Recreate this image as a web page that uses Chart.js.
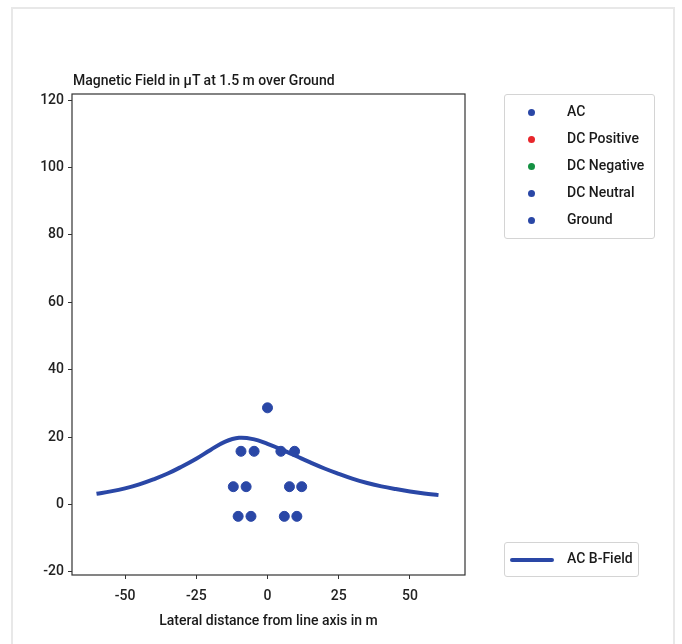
<!DOCTYPE html>
<html>
<head>
<meta charset="utf-8">
<script src="https://cdn.jsdelivr.net/npm/chart.js@4.4.1/dist/chart.umd.min.js"></script>
<style>
  body { margin: 0; background: #fff; font-family: Roboto, "DejaVu Sans", sans-serif; }
  #wrap { position: relative; width: 682px; height: 644px; overflow: hidden; }
  #frame { position: absolute; left: 11px; top: 7px; width: 660px; height: 660px; border: 2px solid #e8e8e8; }
  #title { position: absolute; left: 73px; top: 72px; font-size: 14px; font-weight: 500; line-height: 17px; color: #1a1a1a; white-space: nowrap; }
  .legend { position: absolute; border: 1px solid #d4d4d4; border-radius: 3px; background: #fff; font-size: 14px; font-weight: 500; line-height: 17px; color: #1a1a1a; }
  .row { position: absolute; white-space: nowrap; }
  .dot { position: absolute; width: 7px; height: 7px; border-radius: 50%; }
  .bar { position: absolute; height: 4px; border-radius: 2px; }
</style>
</head>
<body>
<div id="wrap">
  <canvas id="chart"></canvas>
  <div id="frame"></div>
  <div id="title">Magnetic Field in μT at 1.5 m over Ground</div>
  <div id="legend1" class="legend" style="left:504px;top:94px;width:149px;height:143px;"></div>
  <div id="legend2" class="legend" style="left:504px;top:542px;width:133px;height:33px;"></div>
</div>
<script>
// lateral distance (m) and AC field (µT) along the profile
var curveX = [-60,-55,-50,-45,-40,-35,-30,-25,-20,-15,-10,-5,0,5,10,15,20,25,30,35,40,45,50,55,60];
var curveB = [3.2,3.9,4.8,6.0,7.5,9.2,11.3,13.6,16.2,18.6,19.8,19.4,18.0,16.3,14.4,12.5,10.7,9.1,7.6,6.4,5.4,4.6,3.9,3.3,2.8];

// conductor positions (x in m, height in m)
var acX = [-9.3,-4.7,4.7,9.5,-12.0,-7.5,7.7,12.0,-10.3,-5.8,5.9,10.3];
var acY = [15.8,15.8,15.8,15.8,5.3,5.3,5.3,5.3,-3.5,-3.5,-3.5,-3.5];
var dcPosX = [], dcPosY = [];
var dcNegX = [], dcNegY = [];
var dcNeuX = [], dcNeuY = [];
var groundX = [0];
var groundY = [28.7];

var xTicks = [-50, -25, 0, 25, 50];
var yTicks = [-20, 0, 20, 40, 60, 80, 100, 120];

var blue = '#2a47a6';

function pts(xs, ys) {
  return xs.map(function (x, i) { return { x: x, y: ys[i] }; });
}

var pointSets = [
  { label: 'AC', data: pts(acX, acY), color: blue },
  { label: 'DC Positive', data: pts(dcPosX, dcPosY), color: '#e8262b' },
  { label: 'DC Negative', data: pts(dcNegX, dcNegY), color: '#149142' },
  { label: 'DC Neutral', data: pts(dcNeuX, dcNeuY), color: blue },
  { label: 'Ground', data: pts(groundX, groundY), color: blue }
];

var datasets = [{
  label: 'AC B-Field',
  data: pts(curveX, curveB),
  showLine: true,
  borderColor: blue,
  borderWidth: 4,
  pointRadius: 0,
  tension: 0.4,
  order: 2
}];
pointSets.forEach(function (s) {
  datasets.push({
    label: s.label,
    data: s.data,
    backgroundColor: s.color,
    borderColor: s.color,
    pointRadius: 5,
    pointHoverRadius: 5,
    showLine: false,
    order: 1
  });
});

var frameBox = {
  id: 'frameBox',
  afterDraw: function (chart) {
    var a = chart.chartArea, c = chart.ctx;
    c.save();
    c.strokeStyle = '#333';
    c.lineWidth = 1.2;
    c.strokeRect(a.left, a.top, a.right - a.left, a.bottom - a.top);
    c.restore();
  }
};

var tickFont = { family: 'Roboto', size: 14, weight: '500' };

new Chart(document.getElementById('chart'), {
  type: 'scatter',
  data: { datasets: datasets },
  options: {
    responsive: true,
    maintainAspectRatio: false,
    animation: false,
    layout: { padding: { left: 0, top: 94, right: 217, bottom: 9 } },
    plugins: { legend: { display: false }, tooltip: { enabled: false } },
    scales: {
      x: {
        min: -68.6, max: 69.3,
        afterFit: function (s) { s.height = 60; },
        afterBuildTicks: function (s) { s.ticks = xTicks.map(function (v) { return { value: v }; }); },
        grid: { display: true, drawOnChartArea: false, drawTicks: true, tickLength: 4, color: '#333' },
        border: { display: false },
        ticks: { color: '#222', font: tickFont, padding: 9, maxRotation: 0 },
        title: { display: true, text: 'Lateral distance from line axis in m', color: '#1a1a1a', font: tickFont, padding: { top: 4, bottom: 5 } }
      },
      y: {
        min: -20.9, max: 121.8,
        afterFit: function (s) { s.width = 72; },
        afterBuildTicks: function (s) { s.ticks = yTicks.map(function (v) { return { value: v }; }); },
        grid: { display: true, drawOnChartArea: false, drawTicks: true, tickLength: 4, color: '#333' },
        border: { display: false },
        ticks: { color: '#222', font: tickFont, padding: 4 }
      }
    }
  },
  plugins: [frameBox]
});

// legends (matplotlib style, two boxes)
var l1 = document.getElementById('legend1');
pointSets.forEach(function (s, i) {
  var d = document.createElement('div');
  d.className = 'dot';
  d.style.background = s.color;
  d.style.left = '23px';
  d.style.top = (14 + i * 27) + 'px';
  l1.appendChild(d);
  var t = document.createElement('div');
  t.className = 'row';
  t.textContent = s.label;
  t.style.left = '62px';
  t.style.top = (8 + i * 27) + 'px';
  l1.appendChild(t);
});
var l2 = document.getElementById('legend2');
var b = document.createElement('div');
b.className = 'bar';
b.style.background = blue;
b.style.left = '5px';
b.style.top = '15px';
b.style.width = '44px';
l2.appendChild(b);
var t2 = document.createElement('div');
t2.className = 'row';
t2.textContent = datasets[0].label;
t2.style.left = '62px';
t2.style.top = '7px';
l2.appendChild(t2);
</script>
</body>
</html>
